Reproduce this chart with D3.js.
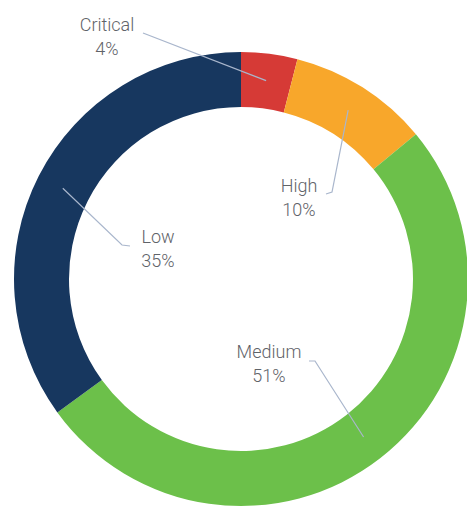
<!DOCTYPE html>
<html>
<head>
<meta charset="utf-8">
<script src="https://cdn.jsdelivr.net/npm/d3@7"></script>
<style>
  body { margin: 0; background: #fff; }
  svg { display: block; }
</style>
</head>
<body>
<div id="container"></div>
<script>
// data
const categories = ["Critical", "High", "Medium", "Low"];
const values = [4, 10, 51, 35];
const colors = ["#d63a36", "#f8a72b", "#6cc04a", "#17375f"];

const width = 467, height = 506;
const cx = 241, cy = 279;
const outerR = 227, innerR = 172;

// label layout: text centre/baseline and leader elbow points (page coords)
const labelLayout = {
  Critical: { x: 107, y: 31, elbow: [[143, 33]] },
  High: { x: 299, y: 192, elbow: [[332, 192], [326, 194]] },
  Medium: { x: 269, y: 358, elbow: [[315, 361], [309, 361]] },
  Low: { x: 158, y: 243, elbow: [[122, 245], [130, 246]] }
};

const svg = d3.select("#container").append("svg")
  .attr("width", width).attr("height", height);

const color = d3.scaleOrdinal().domain(categories).range(colors);

const pie = d3.pie().sort(null).value(d => d.value);
const arcs = pie(categories.map((c, i) => ({ name: c, value: values[i] })));

const arc = d3.arc().innerRadius(innerR).outerRadius(outerR);
const midArc = d3.arc().innerRadius(200).outerRadius(200);

const g = svg.append("g").attr("transform", `translate(${cx},${cy})`);

g.selectAll("path.slice")
  .data(arcs)
  .enter()
  .append("path")
  .attr("class", "slice")
  .attr("d", arc)
  .attr("fill", d => color(d.data.name));

// leader lines
const line = d3.line();
svg.append("g").selectAll("path")
  .data(arcs)
  .enter()
  .append("path")
  .attr("d", d => {
    const c = midArc.centroid(d);
    const pts = [[c[0] + cx, c[1] + cy]].concat(labelLayout[d.data.name].elbow);
    return line(pts);
  })
  .attr("fill", "none")
  .attr("stroke", "#a9b6cc")
  .attr("stroke-width", 1.2);

// labels
const labels = svg.append("g").selectAll("text")
  .data(arcs)
  .enter()
  .append("text")
  .attr("text-anchor", "middle")
  .style("font-family", "Roboto, 'Open Sans', sans-serif")
  .style("font-size", "18px")
  .style("font-weight", 300)
  .style("fill", "#5f6369");

labels.append("tspan")
  .attr("x", d => labelLayout[d.data.name].x)
  .attr("y", d => labelLayout[d.data.name].y)
  .text(d => d.data.name);

labels.append("tspan")
  .attr("x", d => labelLayout[d.data.name].x)
  .attr("y", d => labelLayout[d.data.name].y + 24)
  .text(d => d.data.value + "%");
</script>
</body>
</html>
